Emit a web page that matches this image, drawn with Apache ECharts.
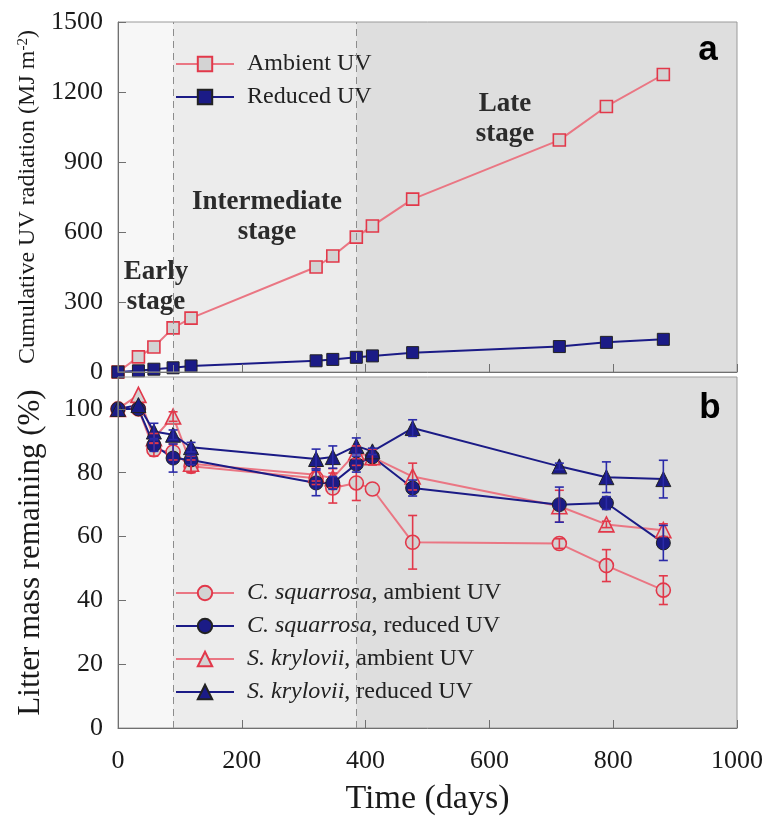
<!DOCTYPE html>
<html>
<head>
<meta charset="utf-8">
<title>UV radiation and litter decomposition</title>
<script src="https://cdn.jsdelivr.net/npm/echarts@6/dist/echarts.min.js"></script>
<style>html,body{margin:0;padding:0;background:#fff}</style>
</head>
<body>
<div id="main" style="width:775px;height:822px"></div>
<script>
// sampling days (shared by both panels)
var days = [0, 33, 58, 89, 118, 320, 347, 385, 411, 476, 713, 789, 881];

// panel a: cumulative UV (MJ m-2)
var ambientUV = [0, 65, 107, 189, 231, 450, 497, 578, 626, 741, 994, 1138, 1275];
var reducedUV = [0, 5, 12, 18, 26, 48, 54, 63, 69, 83, 109, 127, 140];

// panel b: litter mass remaining (%) and error half-widths
var csAmb = [100, 100, 87.2, 86.5, 82, 78.3, 75.2, 76.8, 74.9, 58.2, 57.8, 50.9, 43.2];
var csAmbErr = [0, 0, 2, 2.5, 2, 2, 4.7, 5.5, 0, 8.4, 1.5, 5, 4.5];
var csRed = [100, 100, 88.7, 84.6, 84, 76.8, 76.8, 82.7, 85, 75.2, 70, 70.5, 58];
var csRedErr = [0, 0, 2, 4.4, 1.5, 4, 2, 2.5, 0, 2.5, 5.5, 2, 5.5];
var skAmb = [100, 104.4, 90.8, 97.6, 82.8, 79.4, 78.3, 86.4, 84.9, 78.8, 69.5, 63.8, 62];
var skAmbErr = [0, 0, 1.5, 1.5, 2.5, 2, 3, 2, 2.5, 4.2, 5, 1, 2];
var skRed = [100, 101.2, 92.9, 91.9, 88, 84.3, 84.9, 88.4, 86.7, 94, 82, 78.6, 78];
var skRedErr = [0, 0, 2.6, 1.5, 1.5, 3.1, 3.5, 2.5, 1, 2.6, 1, 4.8, 5.9];

// stage boundaries (days)
var stageEdges = [0, 89, 385, 1000];
var stageColors = ['#f7f7f7', '#ececec', '#dedede'];

var serif = 'Liberation Serif';
var redLine = '#ea7683', redMark = '#e2384a', blue = '#1b1b86', grayFill = '#d3d3d3';

function pairs(ys) {
    return days.map(function (d, i) { return [d, ys[i]]; });
}

function errData(ys, es) {
    var out = [];
    for (var i = 0; i < days.length; i++) {
        if (es[i] > 0) out.push([days[i], ys[i] - es[i], ys[i] + es[i]]);
    }
    return out;
}

function errRender(color) {
    return function (params, api) {
        var x = api.value(0);
        var top = api.coord([x, api.value(2)]);
        var bot = api.coord([x, api.value(1)]);
        var w = 4.5;
        var st = { stroke: color, lineWidth: 1.6 };
        return {
            type: 'group',
            children: [
                { type: 'line', shape: { x1: top[0], y1: top[1], x2: bot[0], y2: bot[1] }, style: st },
                { type: 'line', shape: { x1: top[0] - w, y1: top[1], x2: top[0] + w, y2: top[1] }, style: st },
                { type: 'line', shape: { x1: bot[0] - w, y1: bot[1], x2: bot[0] + w, y2: bot[1] }, style: st }
            ]
        };
    };
}

function stageSeries(idx) {
    var areas = [];
    for (var i = 0; i < 3; i++) {
        areas.push([{ xAxis: stageEdges[i], itemStyle: { color: stageColors[i] } }, { xAxis: stageEdges[i + 1] }]);
    }
    return {
        type: 'line', xAxisIndex: idx, yAxisIndex: idx, data: [], z: 1, silent: true,
        markArea: { silent: true, data: areas },
        markLine: {
            silent: true, symbol: 'none', label: { show: false },
            lineStyle: { color: '#8c8c8c', type: [7, 5], width: 1 },
            data: [{ xAxis: stageEdges[1] }, { xAxis: stageEdges[2] }]
        }
    };
}

function lineSeries(name, idx, ys, symbol, size, filled, isRed) {
    return {
        name: name, type: 'line', xAxisIndex: idx, yAxisIndex: idx, z: 3,
        data: pairs(ys), symbol: symbol, symbolSize: size, showAllSymbol: true,
        lineStyle: { color: isRed ? redLine : blue, width: 2 },
        itemStyle: {
            color: filled ? blue : grayFill,
            borderColor: filled ? '#222' : redMark,
            borderWidth: filled ? 1 : 1.6
        },
        emphasis: { disabled: true }
    };
}

function errSeries(ys, es, idx, color) {
    return {
        type: 'custom', xAxisIndex: idx, yAxisIndex: idx, z: 5, silent: true,
        renderItem: errRender(color), data: errData(ys, es)
    };
}

var axisGray = '#707070';
var plain = function (v) { return String(v); };
var tickLabel = { fontFamily: serif, fontSize: 26, color: '#1a1a1a', formatter: plain };

var xBase = {
    type: 'value', min: 0, max: 1000, interval: 200, z: 10,
    axisLine: { show: true, onZero: false, lineStyle: { color: axisGray } },
    axisTick: { show: true, inside: true, length: 8, lineStyle: { color: axisGray } },
    splitLine: { show: false }
};

var legendText = {
    fontFamily: serif, fontSize: 24, color: '#222', lineHeight: 26, padding: [0, 0, 0, 8],
    rich: {
        i: { fontFamily: serif, fontSize: 24, fontStyle: 'italic', color: '#222' },
        n: { fontFamily: serif, fontSize: 24, color: '#222' }
    }
};

var option = {
    backgroundColor: '#fff',
    animation: false,
    grid: [
        { left: 118, top: 22, width: 619, height: 350, show: true, z: 10,
          backgroundColor: 'transparent', borderColor: '#9a9a9a', borderWidth: 1 },
        { left: 118, top: 377, width: 619, height: 351, show: true, z: 10,
          backgroundColor: 'transparent', borderColor: '#9a9a9a', borderWidth: 1 }
    ],
    xAxis: [
        Object.assign({}, xBase, { gridIndex: 0, axisLabel: { show: false } }),
        Object.assign({}, xBase, {
            gridIndex: 1,
            axisLabel: Object.assign({ margin: 20 }, tickLabel),
            name: 'Time (days)', nameLocation: 'middle', nameGap: 54,
            nameTextStyle: { fontFamily: serif, fontSize: 34, color: '#1a1a1a' }
        })
    ],
    yAxis: [
        {
            type: 'value', gridIndex: 0, min: 0, max: 1500, interval: 300, z: 10,
            axisLine: { show: true, lineStyle: { color: axisGray } },
            axisTick: { show: true, inside: true, length: 8, lineStyle: { color: axisGray } },
            axisLabel: Object.assign({ margin: 15 }, tickLabel),
            splitLine: { show: false },
            name: '{t|Cumulative UV radiation (MJ m}{s|-2}{t|)}',
            nameLocation: 'middle', nameGap: 76,
            nameTextStyle: {
                rich: {
                    t: { fontFamily: serif, fontSize: 24, color: '#1a1a1a', lineHeight: 26 },
                    s: { fontFamily: serif, fontSize: 15, color: '#1a1a1a', verticalAlign: 'top', lineHeight: 26 }
                }
            }
        },
        {
            type: 'value', gridIndex: 1, min: 0, max: 110, interval: 20, z: 10,
            axisLine: { show: true, lineStyle: { color: axisGray } },
            axisTick: { show: true, inside: true, length: 8, lineStyle: { color: axisGray } },
            axisLabel: Object.assign({ margin: 15, showMaxLabel: false }, tickLabel),
            splitLine: { show: false },
            name: 'Litter mass remaining (%)', nameLocation: 'middle', nameGap: 72,
            nameTextStyle: { fontFamily: serif, fontSize: 31, color: '#1a1a1a' }
        }
    ],
    legend: [
        {
            orient: 'vertical', left: 170, top: 46, itemWidth: 58, itemHeight: 18, itemGap: 7,
            data: ['Ambient UV', 'Reduced UV'], textStyle: legendText, selectedMode: false
        },
        {
            orient: 'vertical', left: 170, top: 575, itemWidth: 58, itemHeight: 18, itemGap: 7,
            data: ['C. squarrosa, ambient UV', 'C. squarrosa, reduced UV',
                   'S. krylovii, ambient UV', 'S. krylovii, reduced UV'],
            textStyle: legendText, selectedMode: false,
            formatter: function (n) {
                var k = n.indexOf(',');
                return '{i|' + n.slice(0, k) + '}{n|' + n.slice(k) + '}';
            }
        }
    ],
    graphic: [
        { type: 'text', z: 20, style: { x: 156, y: 287, text: 'Early\nstage', textAlign: 'center', textVerticalAlign: 'middle',
          font: 'bold 27px "Liberation Serif"', lineHeight: 30, fill: '#2b2b2b' } },
        { type: 'text', z: 20, style: { x: 267, y: 217, text: 'Intermediate\nstage', textAlign: 'center', textVerticalAlign: 'middle',
          font: 'bold 27px "Liberation Serif"', lineHeight: 30, fill: '#2b2b2b' } },
        { type: 'text', z: 20, style: { x: 505, y: 119, text: 'Late\nstage', textAlign: 'center', textVerticalAlign: 'middle',
          font: 'bold 27px "Liberation Serif"', lineHeight: 30, fill: '#2b2b2b' } },
        { type: 'text', z: 20, style: { x: 708, y: 50, text: 'a', textAlign: 'center', textVerticalAlign: 'middle',
          font: 'bold 35px "Liberation Sans"', fill: '#000' } },
        { type: 'text', z: 20, style: { x: 710, y: 408, text: 'b', textAlign: 'center', textVerticalAlign: 'middle',
          font: 'bold 35px "Liberation Sans"', fill: '#000' } }
    ],
    series: [
        stageSeries(0),
        lineSeries('Ambient UV', 0, ambientUV, 'rect', 12, false, true),
        lineSeries('Reduced UV', 0, reducedUV, 'rect', 12, true, false),
        stageSeries(1),
        lineSeries('C. squarrosa, ambient UV', 1, csAmb, 'circle', 14, false, true),
        lineSeries('S. krylovii, ambient UV', 1, skAmb, 'triangle', 15, false, true),
        lineSeries('C. squarrosa, reduced UV', 1, csRed, 'circle', 14, true, false),
        lineSeries('S. krylovii, reduced UV', 1, skRed, 'triangle', 15, true, false),
        errSeries(csAmb, csAmbErr, 1, redMark),
        errSeries(skAmb, skAmbErr, 1, redMark),
        errSeries(csRed, csRedErr, 1, '#2a2aa8'),
        errSeries(skRed, skRedErr, 1, '#2a2aa8')
    ]
};

var chart = echarts.init(document.getElementById('main'));
chart.setOption(option);
</script>
</body>
</html>
